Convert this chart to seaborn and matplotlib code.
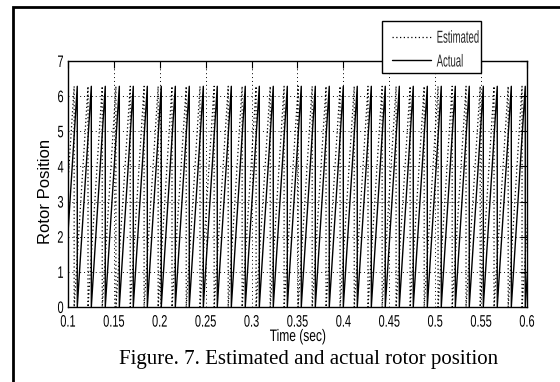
import numpy as np
import pandas as pd
import matplotlib
matplotlib.use("Agg")
import matplotlib.pyplot as plt
import seaborn as sns
from matplotlib import patheffects
from matplotlib.transforms import Affine2D
from matplotlib.patches import Rectangle

sns.set_theme(style="white")
plt.rcParams['font.family'] = ['Liberation Sans', 'DejaVu Sans']

# ---- data ----
peak_value = 6.28
actual_resets = [0.0949, 0.1101, 0.1254, 0.1406, 0.1559, 0.1711, 0.1864, 0.2016,
                 0.2169, 0.2321, 0.2474, 0.2626, 0.2779, 0.2931, 0.3084, 0.3236,
                 0.3389, 0.3541, 0.3694, 0.3846, 0.3999, 0.4151, 0.4304, 0.4456,
                 0.4609, 0.4761, 0.4914, 0.5066, 0.5219, 0.5371, 0.5524, 0.5676,
                 0.5829, 0.5981, 0.6134]
estimated_resets = [0.0912, 0.1067, 0.1218, 0.1373, 0.1522, 0.1678, 0.1829, 0.1982,
                    0.2133, 0.2288, 0.2438, 0.2592, 0.2745, 0.2897, 0.3049, 0.3203,
                    0.3354, 0.3507, 0.3660, 0.3811, 0.3964, 0.4118, 0.4268, 0.4422,
                    0.4574, 0.4727, 0.4880, 0.5031, 0.5185, 0.5336, 0.5490, 0.5641,
                    0.5795, 0.5946, 0.6099]
x_ticks = [0.1, 0.15, 0.2, 0.25, 0.3, 0.35, 0.4, 0.45, 0.5, 0.55, 0.6]
x_tick_labels = ["0.1", "0.15", "0.2", "0.25", "0.3", "0.35", "0.4", "0.45", "0.5", "0.55", "0.6"]
y_ticks = [0, 1, 2, 3, 4, 5, 6, 7]


class Condense(patheffects.AbstractPathEffect):
    """Draw text horizontally condensed (like the narrow MATLAB font)."""

    def __init__(self, sx=0.65, anchor="center"):
        super().__init__()
        self.sx = sx
        self.anchor = anchor

    def draw_path(self, renderer, gc, tpath, affine, rgbFace=None):
        v = affine.transform(tpath.vertices)
        if len(v) == 0:
            return
        xmin, xmax = v[:, 0].min(), v[:, 0].max()
        cx = {"left": xmin, "center": 0.5 * (xmin + xmax), "right": xmax}[self.anchor]
        new = affine + Affine2D().translate(-cx, 0).scale(self.sx, 1).translate(cx, 0)
        renderer.draw_path(gc, tpath, new, rgbFace)


def sawtooth_vertices(resets, peak):
    xs, ys = [resets[0]], [0.0]
    for r in resets[1:]:
        xs += [r, r]
        ys += [peak, 0.0]
    return xs, ys


ax_x, ax_y = sawtooth_vertices(actual_resets, peak_value)
es_x, es_y = sawtooth_vertices(estimated_resets, peak_value)
df_act = pd.DataFrame({"t": ax_x, "pos": ax_y})
df_est = pd.DataFrame({"t": es_x, "pos": es_y})

W, H = 560, 382
fig = plt.figure(figsize=(W / 100, H / 100), dpi=100)
fig.patch.set_facecolor("white")
ax = fig.add_axes([68 / W, 1 - 307 / H, 459 / W, 246 / H])
ax.set_facecolor("white")

sns.lineplot(data=df_est, x="t", y="pos", sort=False, estimator=None, ax=ax,
             color="black", linewidth=0.9, linestyle=(0, (1, 2)), label="Estimated")
sns.lineplot(data=df_act, x="t", y="pos", sort=False, estimator=None, ax=ax,
             color="black", linewidth=1.0, linestyle="-", label="Actual")

ax.set_xlim(0.1, 0.6)
ax.set_ylim(0, 7)
ax.set_xticks(x_ticks)
ax.set_xticklabels(x_tick_labels)
ax.set_yticks(y_ticks)
ax.grid(True, color="black", linestyle=(0, (1, 3)), linewidth=0.7)
for s in ax.spines.values():
    s.set_visible(True)
    s.set_color("black")
    s.set_linewidth(1.0)
ax.tick_params(direction="in", length=5, width=0.8, top=True, right=True,
               labelsize=12, colors="black")
ax.tick_params(axis="x", pad=5.5)
ax.tick_params(axis="y", pad=3)

ax.set_xlabel("Time (sec)", fontsize=12, color="black", va="top")
ax.xaxis.set_label_coords((298 - 68) / 459, (307 - 329) / 246)
ax.set_ylabel("Rotor Position", fontsize=12, color="black", va="center")
ax.yaxis.set_label_coords((45 - 68) / 459, (307 - 191) / 246)

handles, labels = ax.get_legend_handles_labels()
leg = ax.legend(handles, labels, loc="upper left",
                bbox_to_anchor=(382 / W, 1 - 21 / H), bbox_transform=fig.transFigure,
                fontsize=12.5, frameon=False, borderpad=0.55, handlelength=2.3,
                handletextpad=0.3, labelspacing=0.5, borderaxespad=0)
for t in leg.get_texts():
    t.set_path_effects([Condense(0.55, "left")])
ax.add_patch(Rectangle((382 / W, 1 - 73 / H), 99 / W, 52 / H, transform=fig.transFigure,
                       fill=True, facecolor="white", edgecolor="black", linewidth=1.0,
                       clip_on=False, zorder=4))
leg.set_zorder(5)

fig.text(309 / W, 1 - 359.5 / H, "Figure. 7. Estimated and actual rotor position",
         ha="center", va="center", fontsize=15,
         family=['Liberation Serif', 'DejaVu Serif'], color="black")

fig.patches.append(Rectangle((12.5 / W, -0.1), 1.2, 1.1 - 7 / H,
                             transform=fig.transFigure, fill=False,
                             edgecolor="black", linewidth=2.0))

fig.canvas.draw()
for t in ax.get_xticklabels():
    t.set_path_effects([Condense(0.66, "center")])
for t in ax.get_yticklabels():
    t.set_path_effects([Condense(0.66, "right")])
ax.xaxis.label.set_path_effects([Condense(0.72, "center")])

fig.savefig("out.png", dpi=100, facecolor="white")
